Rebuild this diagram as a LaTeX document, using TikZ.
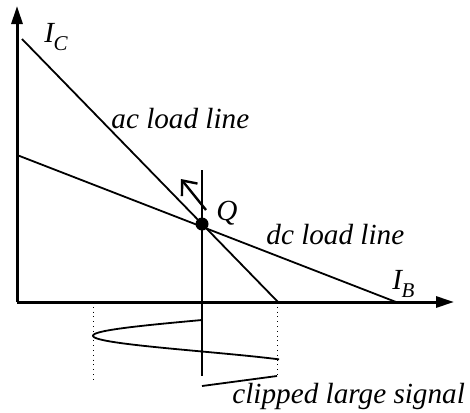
\documentclass[tikz,border=0pt]{standalone}
\usepackage{fontspec}
\setmainfont{Liberation Serif}
\usetikzlibrary{arrows.meta}
\begin{document}
\begin{tikzpicture}[x=0.5pt,y=-0.5pt,
  axis/.style={line width=1.5pt,-{Triangle[length=9pt,width=5.5pt]}},
  loadline/.style={line width=0.9pt},
  thinline/.style={line width=0.7pt},
  guide/.style={line width=0.4pt,dotted},
  sig/.style={line width=0.9pt},
  lbl/.style={inner sep=0pt,anchor=base west,font=\fontsize{14.6}{17}\selectfont\itshape}]
\useasboundingbox (0,0) rectangle (470,412);
\coordinate (O) at (17,302);
\coordinate (Ytop) at (17,6);
\coordinate (Xend) at (454,302);
\coordinate (ac1) at (22,39);
\coordinate (ac2) at (278,302);
\coordinate (dc1) at (17,155);
\coordinate (dc2) at (396,302);
\coordinate (vtop) at (202,170);
\coordinate (vbot) at (202,376);
\coordinate (arrTail) at (206,210);
\coordinate (arrTip) at (181,179);
\coordinate (d1a) at (93,302);
\coordinate (d1b) at (93,381);
\coordinate (d2a) at (277,302);
\coordinate (d2b) at (277,376);
\coordinate (c1) at (277,376);
\coordinate (c2) at (202,386);
% axes
\draw[axis] (O) -- (Ytop);
\draw[axis] (O) -- (Xend);
% load lines
\draw[loadline] (ac1) -- (ac2);
\draw[loadline] (dc1) -- (dc2);
% vertical through Q
\draw[thinline] (vtop) -- (vbot);
% Q point
\node[circle,fill=black,inner sep=0pt,minimum size=6.5pt] (Q) at (202,224) {};
\draw[line width=1.2pt,-{Straight Barb[length=6pt,width=10pt]}] (arrTail) -- (arrTip);
% dotted guides
\draw[guide] (d1a) -- (d1b);
\draw[guide] (d2a) -- (d2b);
% signal
\draw[sig] plot[domain=0:37.5,samples=80,variable=\s] ({202-109*sin(6*\s)},{320+\s*1.05});
\draw[sig] (c1) -- (c2);
% labels
\node[lbl] (IC) at (44,42) {I\kern-0.3pt\raisebox{-0.28em}{\fontsize{10.5}{11}\selectfont C}};
\node[lbl] (IB) at (392,289) {I\kern-0.3pt\raisebox{-0.28em}{\fontsize{10.5}{11}\selectfont B}};
\node[lbl] (aclbl) at (111,128) {ac load line};
\node[lbl] (dclbl) at (266,244) {dc load line};
\node[lbl] (Qlbl) at (216,220) {Q};
\node[lbl] (cliplbl) at (232,403) {clipped large signal};
\end{tikzpicture}
\end{document}
